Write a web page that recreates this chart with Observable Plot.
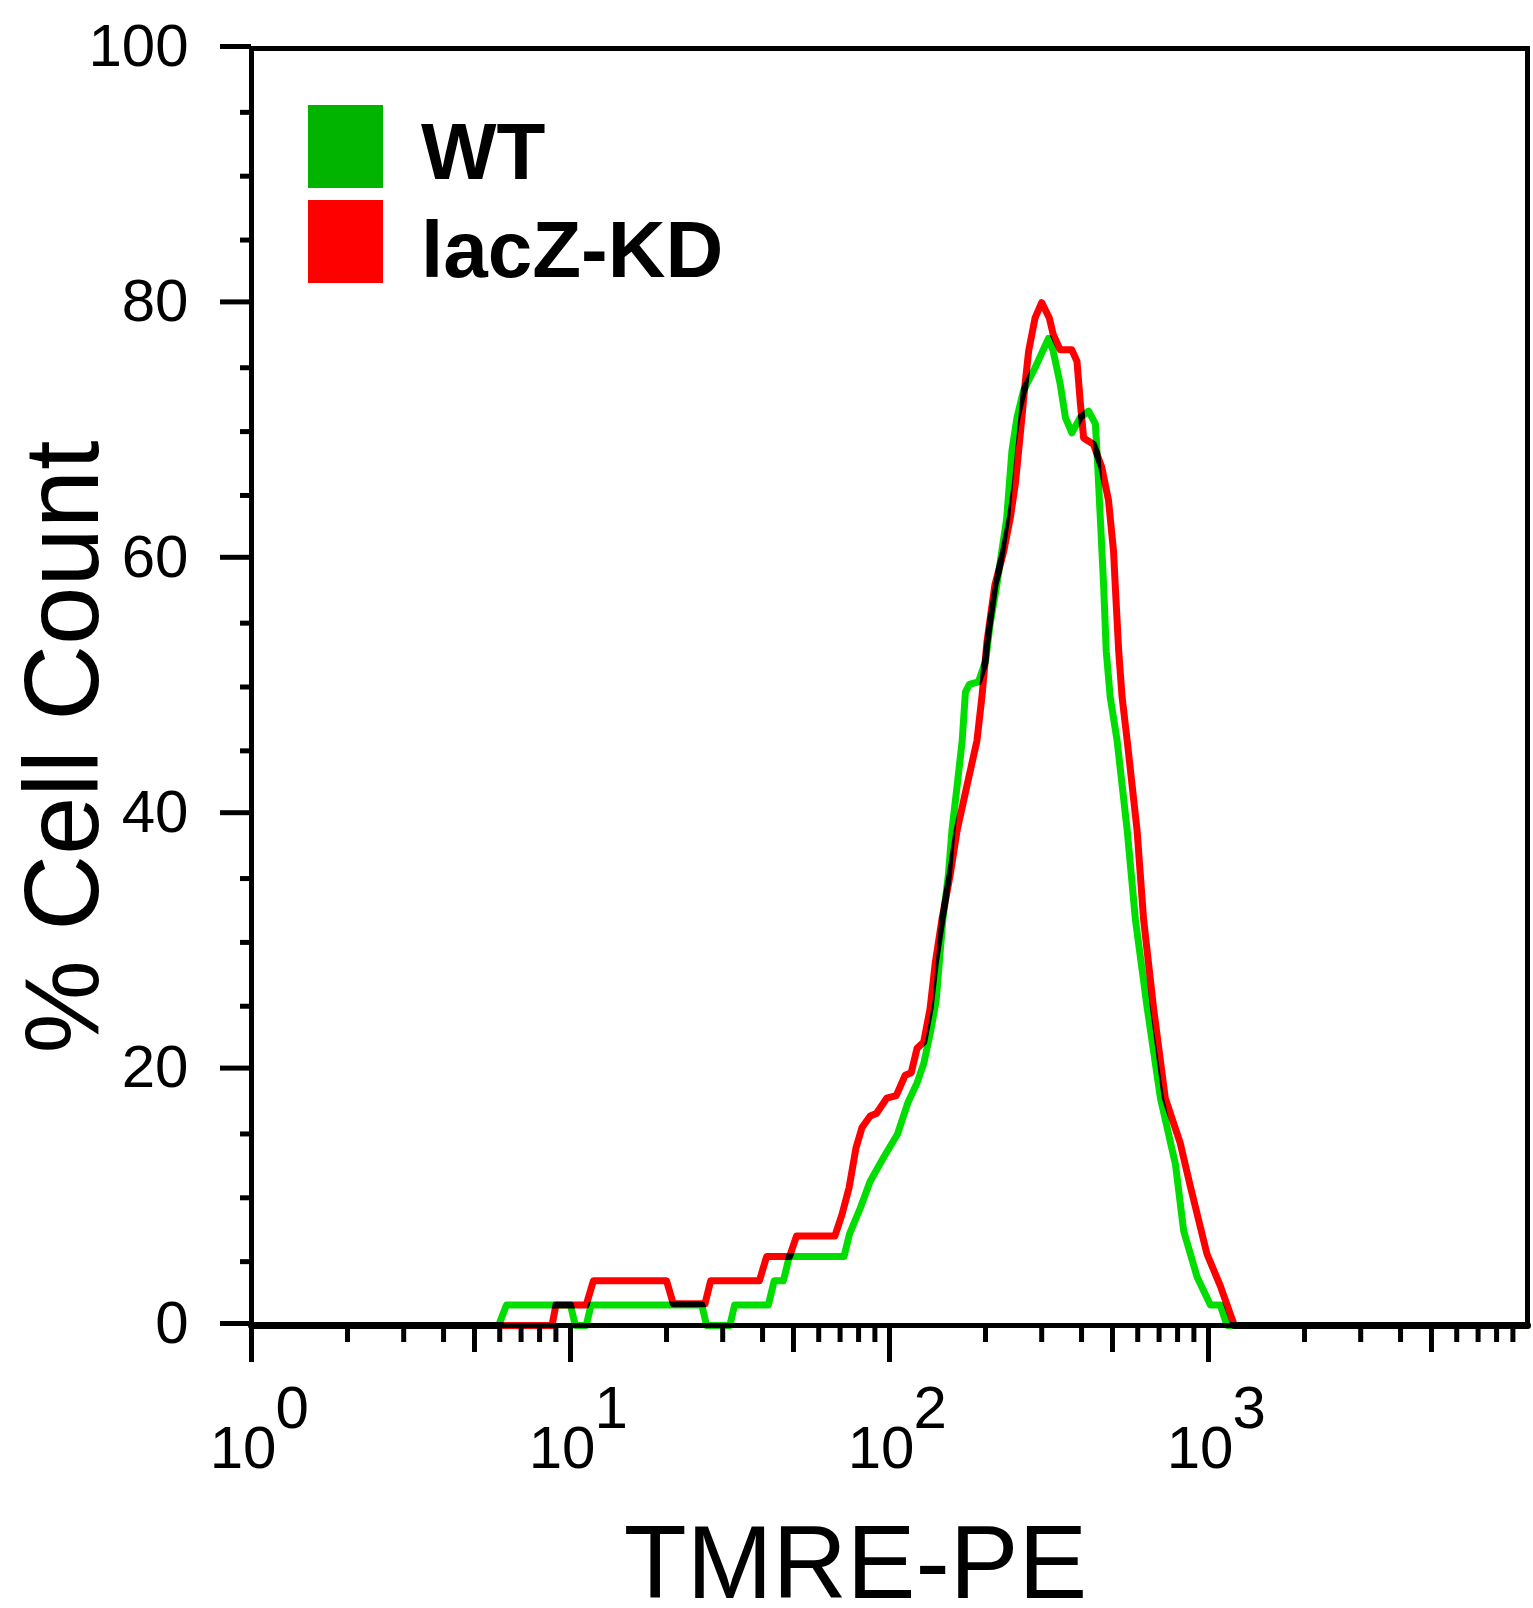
<!DOCTYPE html>
<html><head><meta charset="utf-8">
<script src="https://cdn.jsdelivr.net/npm/d3@7"></script>
<script src="https://cdn.jsdelivr.net/npm/@observablehq/plot@0.6"></script>
<style>
html,body{margin:0;padding:0;background:#fff;}
#chart{position:relative;width:1533px;height:1608px;}
.swatch{position:absolute;width:75px;height:83px;}
.legend-label{position:absolute;font-family:"Liberation Sans",Arial,sans-serif;font-weight:bold;font-size:80px;line-height:80px;white-space:nowrap;color:#000;}
</style></head><body><div id="chart"></div>
<script>
// ---- data ----
const seriesNames = ["WT", "lacZ-KD"];
const lineColors = ["#00dd00", "#ff0000"];
const legendColors = ["#00b400", "#ff0000"];

const wtX = [1, 5.95, 6.3, 10.0, 10.35, 11.2, 11.6, 25.8, 26.7, 31.6, 32.7, 41.7, 43.5, 46.5, 48.5, 72, 75, 81, 87, 96, 106, 114, 122, 128, 134, 140, 147, 153, 157, 163, 169, 173, 178, 190, 200, 207, 217, 233, 242, 251, 263, 286, 315, 326, 343, 356, 373, 396, 421, 442, 447, 458, 469, 478, 492, 517, 556, 590, 643, 707, 788, 836, 921, 1014, 1089, 1143, 10000];
const wtY = [0, 0, 1.6, 1.6, 0, 0, 1.6, 1.6, 0, 0, 1.6, 1.6, 3.5, 3.5, 5.4, 5.4, 7.2, 9.2, 11.3, 13.2, 15.0, 17.4, 19.0, 20.5, 22.8, 25.4, 31.8, 35.3, 38.8, 42.3, 45.8, 49.6, 50.2, 50.4, 52.0, 55.0, 58.0, 63.2, 68.5, 71.1, 73.2, 75.0, 77.3, 76.3, 73.7, 71.1, 69.9, 71.1, 71.6, 70.6, 68.5, 63.2, 58.0, 52.8, 49.2, 45.8, 38.8, 31.8, 24.8, 17.8, 12.6, 7.4, 3.8, 1.6, 1.6, 0, 0];

const kdX = [1, 8.75, 9.0, 11.2, 11.8, 20.0, 21.0, 26.4, 27.5, 39.1, 41.2, 48.6, 51.1, 67.4, 71, 74.7, 78.5, 82, 87, 91, 98, 105, 112, 117, 122, 128, 134, 139, 146, 155, 163, 175, 188, 195, 202, 214, 228, 239, 248, 254, 260, 266, 273, 286, 300, 317, 326, 343, 373, 387, 396, 406, 436, 463, 486, 504, 510, 523, 536, 556, 597, 626, 673, 732, 815, 877, 989, 1089, 1205, 10000];
const kdY = [0, 0, 1.6, 1.6, 3.5, 3.5, 1.7, 1.7, 3.5, 3.5, 5.4, 5.4, 7.0, 7.0, 8.7, 10.8, 13.9, 15.5, 16.4, 16.6, 17.8, 18.0, 19.6, 19.8, 21.7, 22.2, 24.8, 28.3, 31.8, 35.3, 38.8, 42.3, 45.8, 49.3, 53.5, 58.0, 60.6, 63.2, 65.9, 68.5, 71.1, 73.7, 76.3, 78.9, 80.1, 78.9, 77.6, 76.4, 76.4, 75.5, 72.4, 69.5, 69.0, 67.2, 64.6, 60.6, 58.0, 52.8, 49.2, 45.8, 38.8, 31.8, 24.8, 17.8, 14.3, 10.9, 5.6, 3.1, 0, 0];

const yTicks = [0, 20, 40, 60, 80, 100];
const yMinorTicks = [5, 10, 15, 25, 30, 35, 45, 50, 55, 65, 70, 75, 85, 90, 95];
const xMajorTicks = [1, 10, 100, 1000];
const xMidTicks = [5, 50, 500, 5000];
const xMinorTicks = [2, 3, 4, 6, 7, 8, 9, 20, 30, 40, 60, 70, 80, 90, 200, 300, 400, 600, 700, 800, 900, 2000, 3000, 4000, 6000, 7000, 8000, 9000];
const xTickBase = ["10", "10", "10", "10"];
const xTickExp = ["0", "1", "2", "3"];
const xLabel = "TMRE-PE";
const yLabel = "% Cell Count";

// ---- table ----
const rows = [
  ...wtX.map((x, i) => ({series: seriesNames[0], x, y: wtY[i]})),
  ...kdX.map((x, i) => ({series: seriesNames[1], x, y: kdY[i]}))
];

const noText = () => "";
const plot = Plot.plot({
  width: 1533, height: 1608,
  marginLeft: 251, marginRight: 6, marginTop: 48, marginBottom: 283,
  style: {fontFamily: '"Liberation Sans", Arial, sans-serif', background: "#fff", color: "#000", overflow: "visible"},
  x: {type: "log", domain: [1, 10000]},
  y: {domain: [0, 100]},
  color: {domain: seriesNames, range: lineColors},
  marks: [
    Plot.line(rows, {x: "x", y: "y", z: "series", stroke: "series", strokeWidth: 7, strokeLinejoin: "round", mixBlendMode: "multiply"}),
    Plot.frame({stroke: "#000", strokeWidth: 5}),
    Plot.axisY(yTicks, {anchor: "left", tickSize: 31, tickPadding: 32, fontSize: 60, strokeWidth: 5, label: null, dy: -2}),
    Plot.axisY(yMinorTicks, {anchor: "left", tickSize: 11, tickFormat: noText, strokeWidth: 5, label: null}),
    Plot.axisX(xMajorTicks, {anchor: "bottom", tickSize: 37, tickFormat: noText, strokeWidth: 5, label: null}),
    Plot.axisX(xMidTicks, {anchor: "bottom", tickSize: 27, tickFormat: noText, strokeWidth: 5, label: null}),
    Plot.axisX(xMinorTicks, {anchor: "bottom", tickSize: 17, tickFormat: noText, strokeWidth: 5, label: null}),
    Plot.text(xMajorTicks, {x: d => d, text: (d, i) => xTickBase[i], frameAnchor: "bottom", textAnchor: "end", lineAnchor: "bottom", dx: 25, dy: 142, fontSize: 60}),
    Plot.text(xMajorTicks, {x: d => d, text: (d, i) => xTickExp[i], frameAnchor: "bottom", textAnchor: "start", lineAnchor: "bottom", dx: 24, dy: 102, fontSize: 60}),
    Plot.text([xLabel], {frameAnchor: "bottom", textAnchor: "middle", lineAnchor: "bottom", dx: -34, dy: 272, fontSize: 103}),
    Plot.text([yLabel], {frameAnchor: "left", textAnchor: "middle", rotate: -90, lineAnchor: "bottom", dx: -154, dy: 60, fontSize: 105})
  ]
});
const chart = document.getElementById("chart");
chart.appendChild(plot);

// ---- legend (HTML overlay) ----
const legendPos = [{sw: 105, base: 180}, {sw: 200, base: 278}];
seriesNames.forEach((name, i) => {
  const s = document.createElement("div");
  s.className = "swatch";
  s.style.left = "308px";
  s.style.top = legendPos[i].sw + "px";
  s.style.background = legendColors[i];
  chart.appendChild(s);
  const t = document.createElement("div");
  t.className = "legend-label";
  t.style.left = "421px";
  t.style.top = (legendPos[i].base - 0.8465 * 80) + "px";
  t.textContent = name;
  chart.appendChild(t);
});
</script></body></html>
